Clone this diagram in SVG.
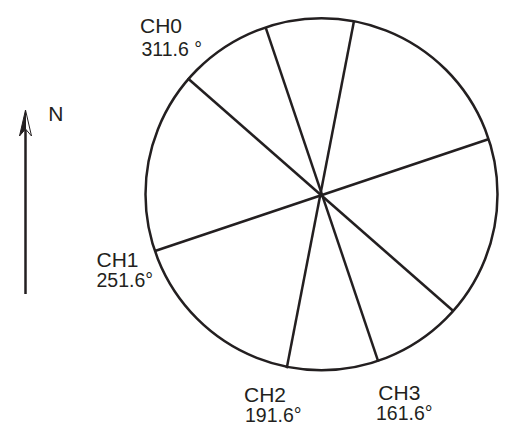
<svg xmlns="http://www.w3.org/2000/svg" width="506" height="435" viewBox="0 0 506 435">
<style>
.s{fill:none;stroke:#231f20;stroke-width:2.5}
.lb{font-family:"Liberation Sans",Arial,sans-serif;font-size:21px;fill:#231f20}
.nm{font-family:"Liberation Sans",Arial,sans-serif;font-size:19.5px;fill:#231f20}
</style>
<rect width="506" height="435" fill="#fff"/>
<g id="circle">
<circle class="s" cx="321.5" cy="194.2" r="176"/>
</g>
<g id="connectors">
<line class="s" x1="265.7" y1="27.7" x2="378.3" y2="361.7"/>
<line class="s" x1="354" y1="21" x2="286.7" y2="368.3"/>
<line class="s" x1="187.7" y1="78.3" x2="453.3" y2="311"/>
<line class="s" x1="488.3" y1="139.3" x2="155" y2="251"/>
</g>
<g id="north">
<line class="s" x1="25.5" y1="294" x2="25.5" y2="125"/>
<polygon points="25.5,110 19.5,136 25.5,129" fill="#231f20" stroke="#231f20" stroke-width="1" stroke-linejoin="miter"/>
<polygon points="25.5,110 31.5,136 25.5,129" fill="#fff" stroke="#231f20" stroke-width="1"/>
<text class="lb" x="48.3" y="120.7" font-size="20">N</text>
</g>
<g id="ch0">
<text class="lb" x="140" y="33">CH0</text>
<text class="nm" x="141.5" y="56">311.6 °</text>
</g>
<g id="ch1">
<text class="lb" x="96.5" y="266.7">CH1</text>
<text class="nm" x="96.5" y="287.3">251.6°</text>
</g>
<g id="ch2">
<text class="lb" x="244" y="401.7">CH2</text>
<text class="nm" x="245" y="421.7">191.6°</text>
</g>
<g id="ch3">
<text class="lb" x="378.3" y="400">CH3</text>
<text class="nm" x="376" y="420">161.6°</text>
</g>
</svg>
